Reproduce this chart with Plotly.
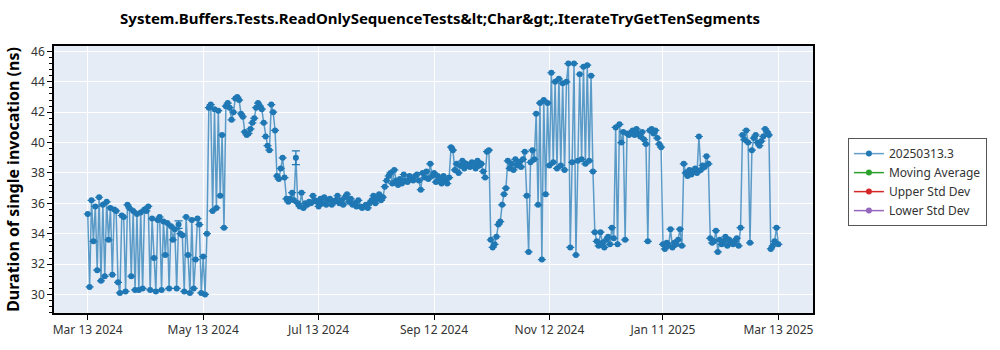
import pandas as pd
import plotly.graph_objects as go

# ---------------- data ----------------
title_text = "System.Buffers.Tests.ReadOnlySequenceTests&amp;lt;Char&amp;gt;.IterateTryGetTenSegments"
series_name = "20250313.3"
other_series = ["Moving Average", "Upper Std Dev", "Lower Std Dev"]
other_colors = ["#2ca02c", "#d62728", "#9467bd"]
start_date = "2024-03-13"

durations_ns = [
    # Mar 13 - May 15 2024
    35.3, 30.5, 36.2, 33.5, 35.8, 31.6, 36.4, 30.9, 35.9, 31.2,
    36.1, 33.6, 35.7, 31.3, 35.6, 35.5, 30.8, 30.1, 35.2, 35.1,
    30.2, 35.9, 35.7, 31.2, 35.5, 30.3, 35.3, 30.3, 35.4, 30.4,
    35.6, 35.5, 35.8, 30.3, 35.0, 32.4, 30.2, 34.9, 35.1, 30.3,
    34.8, 32.6, 34.7, 30.4, 34.5, 33.6, 34.3, 30.4, 34.6, 34.0,
    33.9, 30.2, 35.1, 32.6, 30.1, 34.9, 30.4, 32.3, 35.0, 34.6,
    30.1, 32.5, 30.0, 34.0,
    # May 17 - Jul 11 2024
    42.3, 42.5, 35.5, 42.2, 35.7, 42.1, 36.5, 40.5, 34.4, 42.4,
    42.6, 42.3, 41.5, 42.0, 42.9, 43.0, 42.8, 41.9, 41.7, 40.7,
    40.5, 40.6, 40.9, 41.3, 41.6, 42.3, 42.6, 42.4, 42.2, 41.3,
    40.4, 39.8, 39.5, 42.5, 42.0, 40.8, 37.8, 37.6, 38.3, 39.0,
    37.7, 36.3, 36.1, 36.3, 36.7, 36.2, 39.0, 36.0, 35.8, 36.7,
    35.7, 36.0, 35.9, 36.1, 36.0, 36.5, 36.2,
    # Jul 12 - Sep 2024
    36.1, 35.8, 36.3, 36.0, 36.4, 35.9, 36.2, 36.3, 35.9, 36.1,
    36.2, 36.5, 36.0, 36.2, 35.9, 36.4, 36.6, 36.1, 36.3, 35.9,
    36.0, 35.8, 36.2, 35.8, 35.7, 35.8, 35.9, 35.7, 36.0, 36.2,
    36.5, 36.0, 36.3, 36.6, 36.2, 36.4, 37.1, 37.5, 37.8, 38.0,
    37.3, 38.2, 37.5, 37.2, 37.6, 37.3, 37.9, 37.5, 37.4, 37.8,
    37.6, 37.5, 37.8, 37.9, 37.5, 36.9, 38.0, 37.7, 38.1, 37.6,
    38.6, 37.8, 38.0, 37.4, 37.8, 37.6, 37.3, 37.8, 37.5, 37.3,
    # Sep 21 - Nov 2024
    37.7, 39.7, 39.5, 38.2, 38.6, 38.0, 38.5, 38.8, 38.3, 38.6,
    38.5, 38.4, 38.7, 38.6, 38.3, 38.8, 38.5, 38.6, 38.1, 37.7,
    39.4, 39.5, 33.6, 33.1, 33.3, 33.8, 34.6, 34.8, 35.9, 36.6,
    37.0, 38.8, 38.3, 38.6, 38.2, 38.9, 38.5, 38.7, 38.4, 38.9,
    39.4, 36.5, 32.8, 38.7, 39.5, 38.9, 41.9, 35.9, 42.6, 32.3,
    42.8, 36.6, 42.6, 38.5, 44.6, 38.7, 44.0, 38.3, 44.2, 38.5,
    # Nov 21 2024 - Jan 2025
    43.9, 38.2, 44.0, 45.2, 33.1, 38.7, 45.2, 32.6, 38.8, 44.5,
    38.9, 45.0, 38.6, 45.1, 38.8, 44.4, 38.1, 34.1, 33.5, 33.2,
    34.1, 33.4, 33.1, 33.6, 33.8, 33.3, 34.4, 33.7, 41.0, 33.3,
    41.2, 40.0, 40.7, 33.6, 40.6, 40.5, 40.6, 40.8, 40.5, 40.9,
    40.6, 40.4, 40.7, 40.2, 39.9, 33.5, 40.8, 40.9, 40.6, 40.8,
    40.3, 39.9, 39.7, 33.3, 33.0, 33.4, 33.2, 34.3, 33.1, 33.4,
    # Jan 19 - Mar 13 2025
    33.3, 33.6, 34.3, 33.2, 38.6, 38.0, 37.8, 38.2, 37.9, 38.1,
    38.3, 38.0, 40.4, 38.2, 38.5, 38.4, 39.1, 38.6, 33.7, 33.4,
    33.5, 34.2, 32.8, 33.6, 33.3, 33.5, 33.8, 33.2, 33.6, 33.4,
    33.3, 33.5, 33.7, 33.2, 34.4, 40.5, 40.2, 40.8, 40.0, 33.4,
    39.5, 40.3, 40.5, 40.0, 39.8, 40.1, 40.4, 40.9, 40.7, 40.5,
    33.0, 33.2, 33.5, 34.4, 33.3,
]

# error bars (ns) at a few runs: (day index, half-width)
error_days = [48, 110]
error_sizes = [0.25, 0.45]

x_tick_dates = ["2024-03-13", "2024-05-13", "2024-07-13", "2024-09-12",
                "2024-11-12", "2025-01-11", "2025-03-13"]
x_tick_labels = ["Mar 13 2024", "May 13 2024", "Jul 13 2024", "Sep 12 2024",
                 "Nov 12 2024", "Jan 11 2025", "Mar 13 2025"]
x_range = ["2024-02-24 04:00", "2025-03-31 07:00"]
y_range = [28.78, 46.36]

# ---------------- figure ----------------
dates = pd.date_range(start_date, periods=len(durations_ns), freq="D")
err = [None] * len(durations_ns)
for d, s in zip(error_days, error_sizes):
    err[d] = s

FONT = "Noto Sans"
blue = "#1f77b4"

fig = go.Figure()
fig.add_trace(go.Scatter(
    x=dates, y=durations_ns, name=series_name, mode="lines+markers",
    line=dict(color="rgba(31,119,180,0.7)", width=1.5),
    marker=dict(color=blue, size=6),
    error_y=dict(type="data", array=err, visible=True, color=blue,
                 thickness=1.2, width=4),
))
for nm, col in zip(other_series, other_colors):
    fig.add_trace(go.Scatter(
        x=[None], y=[None], name=nm, mode="lines+markers",
        line=dict(color=col, width=1.5), marker=dict(color=col, size=6),
    ))

# legend shadow
fig.add_shape(type="rect", xref="paper", yref="paper",
              x0=1.0497, x1=1.2157, y0=0.3254, y1=0.643,
              line=dict(width=0), fillcolor="#8a8a8a", layer="above")

fig.update_layout(
    width=1000, height=350,
    margin=dict(l=48, r=187, t=46, b=30),
    paper_bgcolor="white", plot_bgcolor="#E5ECF6",
    font=dict(family=FONT, size=12, color="#333"),
    title=dict(text=title_text, x=0.44, xanchor="center", y=0.947,
               yanchor="middle",
               font=dict(family=FONT, size=15, color="black", weight="bold")),
    showlegend=True,
    legend=dict(x=1.046, y=0.655, xanchor="left", yanchor="top",
                bgcolor="white", bordercolor="#555", borderwidth=1,
                font=dict(family=FONT, size=12, color="#333"),
                itemwidth=30, tracegroupgap=0),
)
fig.update_xaxes(
    type="date", range=x_range, tickvals=x_tick_dates, ticktext=x_tick_labels,
    showgrid=True, gridcolor="white", gridwidth=1,
    showline=True, linecolor="black", linewidth=1.5, mirror=True,
    ticks="outside", ticklen=5, tickcolor="black",
    tickfont=dict(family=FONT, size=12, color="#333"), zeroline=False,
)
fig.update_yaxes(
    range=y_range, dtick=2, tick0=0,
    showgrid=True, gridcolor="white", gridwidth=1,
    showline=True, linecolor="black", linewidth=1.5, mirror=True,
    ticks="outside", ticklen=5, tickcolor="black",
    minor=dict(dtick=0.4, ticks="outside", ticklen=3, tickcolor="black", showgrid=False),
    tickfont=dict(family=FONT, size=12, color="#333"), zeroline=False,
    title=dict(text="Duration of single invocation (ns)", standoff=8,
               font=dict(family=FONT, size=16, color="black", weight="bold")),
)

fig.write_html("out.html")
